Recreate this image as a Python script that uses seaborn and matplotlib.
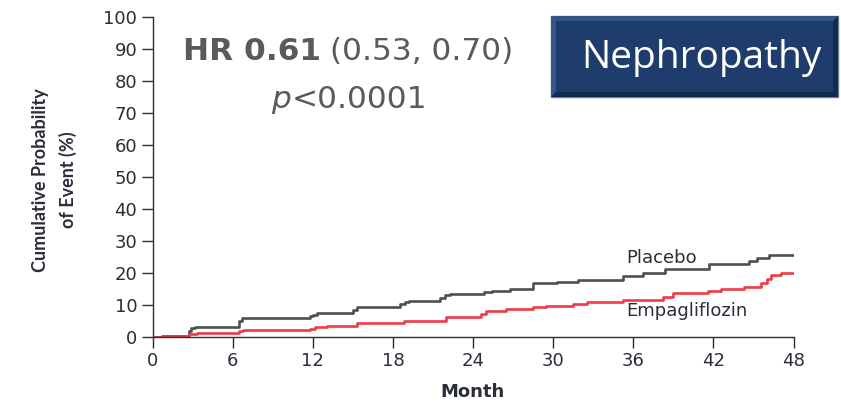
import matplotlib
matplotlib.use("Agg")
import matplotlib.pyplot as plt
from matplotlib.patches import Rectangle, Polygon
import numpy as np
import pandas as pd
import seaborn as sns

# Kaplan-Meier style cumulative incidence (step points: month, %)
placebo_month = [0, 0.7, 2.7, 2.9, 3.2, 6.5, 6.7, 11.8, 12.0, 12.3, 15.0, 15.3,
                 18.5, 18.9, 19.2, 21.5, 21.9, 22.3, 24.8, 25.4, 26.8, 28.5,
                 30.3, 31.9, 35.2, 36.7, 38.4, 41.7, 44.7, 45.3, 46.2, 48.0]
placebo_pct = [0, 0.2, 2.0, 2.8, 3.2, 5.0, 5.8, 6.5, 7.0, 7.6, 8.5, 9.3,
               10.3, 11.0, 11.2, 12.2, 13.0, 13.4, 14.0, 14.5, 15.1, 16.8,
               17.1, 17.8, 19.1, 19.9, 21.2, 22.7, 23.8, 24.6, 25.6, 25.6]

empa_month = [0, 2.3, 2.7, 3.3, 6.5, 6.8, 11.8, 12.2, 13.1, 15.3, 18.8, 22.0,
              24.6, 25.0, 26.5, 28.5, 29.5, 31.5, 32.5, 35.2, 38.2, 39.0,
              41.6, 42.6, 44.3, 45.6, 46.0, 46.3, 47.1, 48.0]
empa_pct = [0, 0.3, 0.8, 1.2, 1.8, 2.2, 2.5, 3.2, 3.5, 4.3, 5.1, 6.2,
            7.2, 8.1, 8.6, 9.3, 9.7, 10.3, 10.8, 11.6, 12.6, 13.7,
            14.2, 14.9, 15.7, 16.8, 18.0, 19.4, 19.9, 19.9]

groups = ["Placebo", "Empagliflozin"]
x_ticks = [0, 6, 12, 18, 24, 30, 36, 42, 48]
y_ticks = [0, 10, 20, 30, 40, 50, 60, 70, 80, 90, 100]

df = pd.concat([
    pd.DataFrame({"month": placebo_month, "pct": placebo_pct, "group": groups[0]}),
    pd.DataFrame({"month": empa_month, "pct": empa_pct, "group": groups[1]}),
])

sns.set_theme(style="white")
plt.rcParams["font.family"] = ["DejaVu Sans"]

W, H = 841, 403
fig = plt.figure(figsize=(W / 100, H / 100), dpi=100)
ax = fig.add_axes([152.5 / W, (H - 337) / H, (793.5 - 152.5) / W, (337 - 16.5) / H])

axis_col = "#2a2d3a"
sns.lineplot(data=df, x="month", y="pct", hue="group",
             palette={"Placebo": "#4f4f4f", "Empagliflozin": "#ee3b47"},
             drawstyle="steps-post", linewidth=1.9, legend=False,
             estimator=None, ax=ax)

ax.set_xlim(0, 48)
ax.set_ylim(0, 100)
ax.set_xticks(x_ticks)
ax.set_yticks(y_ticks)
ax.set_xticklabels([str(t) for t in x_ticks])
ax.set_yticklabels([str(t) for t in y_ticks])
ax.tick_params(axis="both", direction="out", colors=axis_col, labelsize=13,
               width=1.0, length=8, pad=3, left=True, bottom=True)
for lab in ax.get_xticklabels() + ax.get_yticklabels():
    lab.set_color(axis_col)
for side in ["top", "right"]:
    ax.spines[side].set_visible(False)
for side in ["left", "bottom"]:
    ax.spines[side].set_color(axis_col)
    ax.spines[side].set_linewidth(1.0)
ax.patch.set_alpha(0)

ax.set_xlabel("Month", fontsize=13, fontweight="bold", color=axis_col)
ax.xaxis.set_label_coords(0.5, -0.142)
ax.set_ylabel("Cumulative Probability\nof Event (%)", fontsize=13,
              fontweight="bold", color=axis_col, linespacing=1.65,
              family="Lato")
ax.yaxis.set_label_coords(-0.118, 0.49)

ax.text(35.5, 24.8, "Placebo", fontsize=13, color=axis_col, va="center", ha="left")
ax.text(35.5, 8.0, "Empagliflozin", fontsize=13, color=axis_col, va="center", ha="left")

# Hazard ratio annotation
gray = "#5a5a5a"
fig.canvas.draw()
rend = fig.canvas.get_renderer()
t1 = fig.text(183 / W, 1 - 52 / H, "HR 0.61", fontsize=22.5, fontweight="bold",
              color=gray, va="center", ha="left")
bb = t1.get_window_extent(renderer=rend)
fig.text((bb.x1 + 9) / W, 1 - 52 / H, "(0.53, 0.70)", fontsize=22.5,
         color=gray, va="center", ha="left")
tp = fig.text(271 / W, 1 - 100 / H, "p", fontsize=22.5, style="italic", color=gray,
              va="center", ha="left")
bp = tp.get_window_extent(renderer=rend)
fig.text((bp.x1 + 1) / W, 1 - 100 / H, "<0.0001", fontsize=22.5, color=gray,
         va="center", ha="left")

# Bevelled title badge
x0, y0, x1, y1 = 551, 16, 838, 97
def fx(px):
    return px / W
def fy(py):
    return 1 - py / H
bev = 5
fig.patches.append(Rectangle((fx(x0), fy(y1)), fx(x1) - fx(x0), fy(y0) - fy(y1),
                             transform=fig.transFigure, facecolor="#1e3d6c",
                             edgecolor="#6b7b95", linewidth=1.0))
# top/left light bevel
fig.patches.append(Polygon([(fx(x0), fy(y0)), (fx(x1), fy(y0)), (fx(x1 - bev), fy(y0 + bev)),
                            (fx(x0 + bev), fy(y0 + bev)), (fx(x0 + bev), fy(y1 - bev)),
                            (fx(x0), fy(y1))], closed=True, transform=fig.transFigure,
                           facecolor="#34558a", edgecolor="none"))
# bottom/right dark bevel
fig.patches.append(Polygon([(fx(x1), fy(y0)), (fx(x1), fy(y1)), (fx(x0), fy(y1)),
                            (fx(x0 + bev), fy(y1 - bev)), (fx(x1 - bev), fy(y1 - bev)),
                            (fx(x1 - bev), fy(y0 + bev))], closed=True,
                           transform=fig.transFigure, facecolor="#142b50", edgecolor="none"))
fig.text(fx(701), fy(58), "Nephropathy", fontsize=28, color="white",
         va="center", ha="center", family="Open Sans")

fig.savefig("out.png", dpi=100)
